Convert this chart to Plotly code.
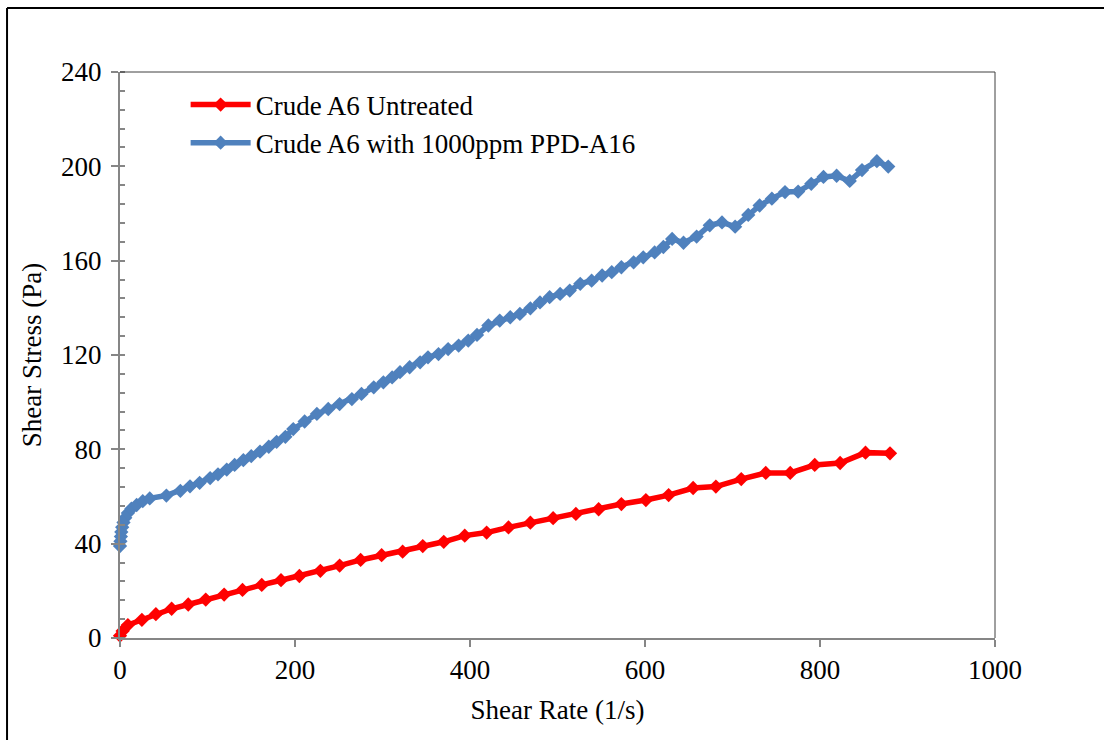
import plotly.graph_objects as go

# Crude A6 Untreated
red_rate = [0, 3, 9, 25, 41, 59, 78, 98, 119, 140, 162, 184, 205, 229, 251, 275, 299, 323,
            346, 370, 394, 419, 444, 469, 495, 521, 547, 573, 601, 627, 655, 681, 710, 738,
            766, 794, 823, 852, 880]
red_stress = [1.0, 3.0, 5.5, 7.7, 10.1, 12.4, 14.2, 16.3, 18.4, 20.4, 22.5, 24.5, 26.3, 28.5,
              30.7, 33.1, 35.1, 36.6, 39.0, 40.8, 43.4, 44.7, 46.9, 48.9, 50.8, 52.6, 54.6,
              56.8, 58.5, 60.6, 63.6, 64.2, 67.4, 70.0, 70.0, 73.4, 74.2, 78.6, 78.3]

# Crude A6 with 1000ppm PPD-A16
blue_rate = [0, 0.5, 1, 1.5, 2.5, 4, 6, 9, 13, 19, 26, 34, 53, 69, 80, 91, 103, 112, 122, 131,
             141, 150, 160, 170, 179, 189, 198, 211, 225, 238, 251, 265, 276, 290, 301, 311,
             320, 331, 343, 352, 364, 375, 387, 398, 408, 421, 434, 446, 457, 469, 480, 491,
             503, 514, 526, 539, 551, 562, 573, 587, 598, 611, 621, 631, 644, 659, 674, 688,
             703, 718, 731, 745, 760, 775, 790, 804, 819, 834, 848, 865, 878]
blue_stress = [39.0, 41.0, 43.0, 45.0, 47.0, 49.0, 51.0, 53.0, 54.8, 56.4, 58.0, 59.2, 60.4,
               62.4, 64.3, 65.8, 67.8, 69.4, 71.4, 73.4, 75.4, 77.1, 79.0, 81.1, 83.2, 85.3,
               88.6, 91.8, 95.0, 97.1, 99.2, 101.3, 103.5, 106.3, 108.4, 110.5, 112.7, 114.8,
               116.9, 119.0, 120.4, 122.5, 124.0, 126.1, 128.5, 132.5, 134.6, 136.0, 137.4,
               139.8, 142.3, 144.5, 145.9, 147.3, 150.2, 151.5, 153.7, 155.1, 157.2, 159.3,
               161.4, 163.5, 165.8, 169.2, 167.6, 170.2, 175.0, 176.2, 174.4, 179.4, 183.4,
               186.3, 189.1, 189.3, 192.6, 195.5, 196.0, 193.8, 198.4, 202.2, 199.9]

series_names = ["Crude A6 Untreated", "Crude A6 with 1000ppm PPD-A16"]
x_title = "Shear Rate (1/s)"
y_title = "Shear Stress (Pa)"

FONT = "Liberation Serif, Times New Roman, serif"
FS = 27

fig = go.Figure()
fig.add_trace(go.Scatter(
    x=red_rate, y=red_stress, name=series_names[0], mode="lines+markers",
    line=dict(color="#FF0000", width=5.5),
    marker=dict(symbol="diamond", size=11, color="#FF0000"),
    cliponaxis=False,
))
fig.add_trace(go.Scatter(
    x=blue_rate, y=blue_stress, name=series_names[1], mode="lines+markers",
    line=dict(color="#4F81BD", width=5.5),
    marker=dict(symbol="diamond", size=11, color="#4F81BD"),
    cliponaxis=False,
))

axis_common = dict(
    showgrid=False, zeroline=False, showline=True, linecolor="#868686", linewidth=2,
    ticks="outside", ticklen=7, tickwidth=2, tickcolor="#868686",
    tickfont=dict(family=FONT, size=FS, color="black"),
)

fig.update_xaxes(
    range=[0, 1000], tickvals=[0, 200, 400, 600, 800, 1000],
    title=dict(text=x_title, font=dict(family=FONT, size=FS, color="black"), standoff=16),
    **axis_common,
)
fig.update_yaxes(
    range=[0, 240], tickvals=[0, 40, 80, 120, 160, 200, 240],
    minor=dict(dtick=8, ticks="inside", ticklen=5, tickwidth=1.5, tickcolor="#868686"),
    ticklabelstandoff=4,
    title=dict(text=y_title, font=dict(family=FONT, size=FS, color="black"), standoff=12),
    **axis_common,
)

# top / right border of plot area
fig.add_shape(type="line", xref="paper", yref="paper", x0=0, x1=1, y0=1, y1=1,
              line=dict(color="#404040", width=1))
fig.add_shape(type="line", xref="paper", yref="paper", x0=1, x1=1, y0=0, y1=1,
              line=dict(color="#404040", width=1))
# outer frame (left and top visible)
fig.add_shape(type="line", xref="paper", yref="paper", x0=-0.1291, x1=1.2, y0=1.113, y1=1.113,
              line=dict(color="black", width=2))
fig.add_shape(type="line", xref="paper", yref="paper", x0=-0.1291, x1=-0.1291, y0=1.113, y1=-0.3,
              line=dict(color="black", width=2))

fig.update_layout(
    width=1104, height=740,
    margin=dict(l=120, r=109, t=72, b=102),
    paper_bgcolor="white", plot_bgcolor="white",
    font=dict(family=FONT, size=FS, color="black"),
    showlegend=True,
    legend=dict(x=0.075, y=0.985, xanchor="left", yanchor="top",
                bgcolor="rgba(0,0,0,0)", font=dict(family=FONT, size=FS, color="black"),
                tracegroupgap=0, itemwidth=60),
)

fig.write_html("out.html")
